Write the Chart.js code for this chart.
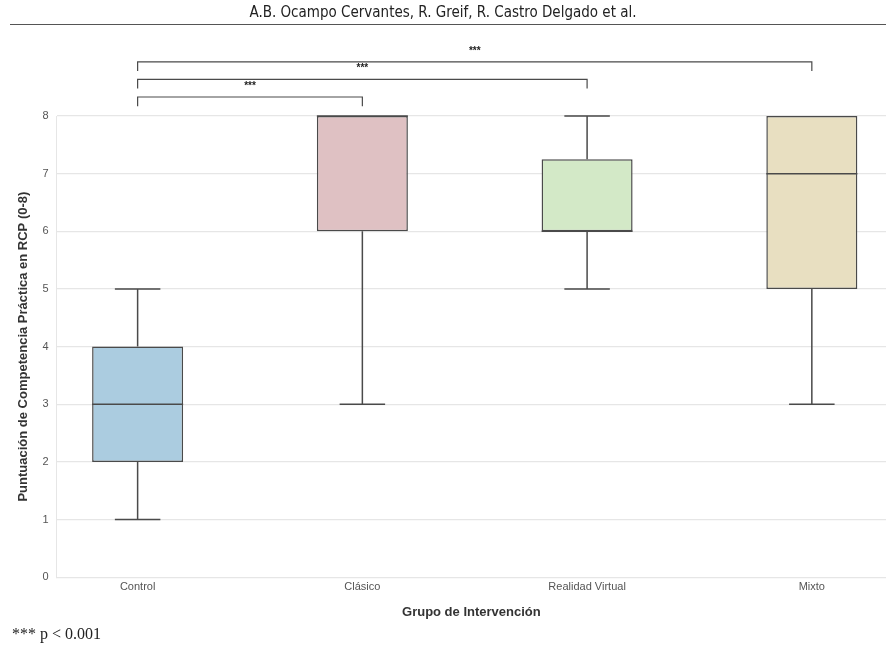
<!DOCTYPE html>
<html>
<head>
<meta charset="utf-8">
<script src="https://cdn.jsdelivr.net/npm/chart.js@4.4.1/dist/chart.umd.min.js"></script>
<style>
  body { margin: 0; background: #fff; }
  #page { position: relative; width: 886px; height: 645px; overflow: hidden; }
  #header {
    position: absolute; left: 0; top: 3px; width: 886px; text-align: center;
    font-family: "DejaVu Sans Condensed", "DejaVu Sans", sans-serif; font-size: 15px; color: #222;
  }
  #rule { position: absolute; left: 10px; right: 0; top: 24px; border-top: 1px solid #555; }
  #note {
    position: absolute; left: 12px; top: 625px;
    font-family: "Liberation Serif", "Times New Roman", serif; font-size: 16px; color: #222;
  }
  #wrap { position: absolute; left: 0; top: 0; width: 886px; height: 645px; }
</style>
</head>
<body>
<div id="page">
  <div id="wrap"><canvas id="myChart"></canvas></div>
  <div id="header">A.B. Ocampo Cervantes, R. Greif, R. Castro Delgado et al.</div>
  <div id="rule"></div>
  <div id="note">*** p &lt; 0.001</div>
</div>

<script>
// Data
const groups = ['Control', 'Clásico', 'Realidad Virtual', 'Mixto'];
const minVals = [1, 3, 5, 3];
const q1Vals = [2, 6, 6, 5];
const medianVals = [3, 8, 6, 7];
const q3Vals = [4, 8, 7.25, 8];
const maxVals = [5, 8, 8, 8];
const yTicks = [0, 1, 2, 3, 4, 5, 6, 7, 8];

// significance brackets: [from group, to group, label]
const comparisons = [[0, 1, '***'], [0, 2, '***'], [0, 3, '***']];

const boxColors = ['#abcce0', '#dfc1c3', '#d3e9c7', '#e8dfc1'];
const lineColor = '#4a4a4a';

// Whiskers, medians and brackets
const boxExtras = {
    id: 'boxExtras',
    afterDatasetsDraw(chart) {
        const c = chart.ctx;
        const x = chart.scales.x;
        const y = chart.scales.y;
        const meta = chart.getDatasetMeta(0);

        c.save();
        c.strokeStyle = lineColor;
        c.lineWidth = 1.5;

        groups.forEach((g, i) => {
            const bar = meta.data[i];
            const half = bar.width / 2;
            const cx = x.getPixelForValue(i);
            const capHalf = half / 2;

            // lower whisker
            if (minVals[i] < q1Vals[i]) {
                c.beginPath();
                c.moveTo(cx, y.getPixelForValue(q1Vals[i]));
                c.lineTo(cx, y.getPixelForValue(minVals[i]));
                c.moveTo(cx - capHalf, y.getPixelForValue(minVals[i]));
                c.lineTo(cx + capHalf, y.getPixelForValue(minVals[i]));
                c.stroke();
            }
            // upper whisker
            if (maxVals[i] > q3Vals[i]) {
                c.beginPath();
                c.moveTo(cx, y.getPixelForValue(q3Vals[i]));
                c.lineTo(cx, y.getPixelForValue(maxVals[i]));
                c.moveTo(cx - capHalf, y.getPixelForValue(maxVals[i]));
                c.lineTo(cx + capHalf, y.getPixelForValue(maxVals[i]));
                c.stroke();
            }
            // median
            c.beginPath();
            c.moveTo(cx - half, y.getPixelForValue(medianVals[i]));
            c.lineTo(cx + half, y.getPixelForValue(medianVals[i]));
            c.stroke();
        });

        // brackets above the plot
        c.lineWidth = 1.2;
        c.fillStyle = '#222';
        c.font = 'bold 10px "Liberation Sans", Arial, sans-serif';
        c.textAlign = 'center';
        c.textBaseline = 'middle';
        comparisons.forEach((cmp, k) => {
            const level = 8.33 + k * 0.305;
            const yTop = y.getPixelForValue(level);
            const yBot = y.getPixelForValue(level - 0.16);
            const x1 = x.getPixelForValue(cmp[0]);
            const x2 = x.getPixelForValue(cmp[1]);
            c.beginPath();
            c.moveTo(x1, yBot);
            c.lineTo(x1, yTop);
            c.lineTo(x2, yTop);
            c.lineTo(x2, yBot);
            c.stroke();
            c.fillText(cmp[2], (x1 + x2) / 2, yTop - 11);
        });
        c.restore();
    }
};

const ctx = document.getElementById('myChart').getContext('2d');

const myChart = new Chart(ctx, {
    type: 'bar',
    data: {
        datasets: [{
            data: groups.map((g, i) => ({ x: i, y: [q1Vals[i], q3Vals[i]] })),
            backgroundColor: boxColors,
            borderColor: lineColor,
            borderWidth: 1.5,
            borderSkipped: false,
            categoryPercentage: 1,
            barPercentage: 0.405
        }]
    },
    options: {
        responsive: true,
        maintainAspectRatio: false,
        animation: false,
        layout: { padding: { top: 116, left: 16, right: 0, bottom: 25 } },
        plugins: {
            legend: { display: false },
            tooltip: { enabled: false }
        },
        scales: {
            x: {
                type: 'linear',
                offset: false,
                min: -0.36,
                max: 3.33,
                afterBuildTicks: scale => {
                    scale.ticks = groups.map((g, i) => ({ value: i }));
                },
                ticks: {
                    callback: v => groups[v],
                    color: '#555',
                    font: { family: '"Liberation Sans", Arial, sans-serif', size: 11 },
                    padding: 3,
                    maxRotation: 0
                },
                grid: { display: false, drawTicks: false },
                border: { display: false },
                title: {
                    display: true,
                    text: 'Grupo de Intervención',
                    color: '#333',
                    font: { family: '"Liberation Sans", Arial, sans-serif', size: 13, weight: 'bold' },
                    padding: { top: 8, bottom: 0 }
                }
            },
            y: {
                min: 0,
                max: 8,
                afterBuildTicks: scale => {
                    scale.ticks = yTicks.map(v => ({ value: v }));
                },
                ticks: {
                    color: '#555',
                    font: { family: '"Liberation Sans", Arial, sans-serif', size: 11 },
                    padding: 8
                },
                grid: { color: '#e6e6e6', lineWidth: 1.3, drawTicks: false },
                border: { display: true, color: '#e6e6e6' },
                title: {
                    display: true,
                    text: 'Puntuación de Competencia Práctica en RCP (0-8)',
                    color: '#333',
                    font: { family: '"Liberation Sans", Arial, sans-serif', size: 13, weight: 'bold' },
                    padding: { top: 0, bottom: 3 }
                }
            }
        }
    },
    plugins: [boxExtras]
});
</script>
</body>
</html>
